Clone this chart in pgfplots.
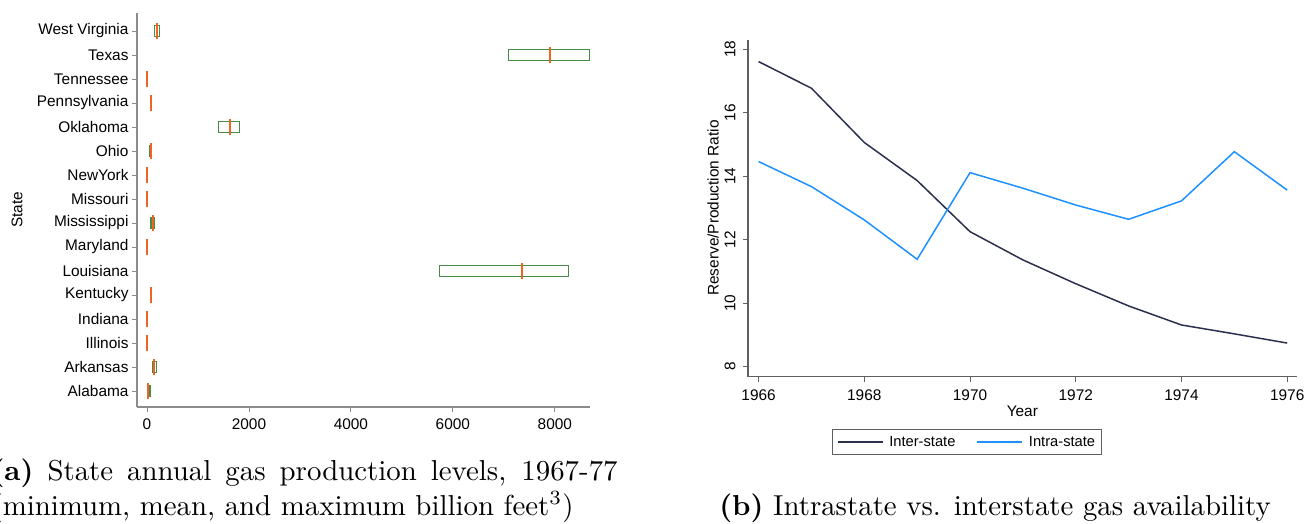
\documentclass[border=0pt]{standalone}
\usepackage{fontspec}
\usepackage{pgfplots}
\pgfplotsset{compat=1.18}
\usepgfplotslibrary{statistics}
\newfontfamily\arial{Liberation Sans}
\definecolor{navyline}{RGB}{43,48,78}
\definecolor{intra}{RGB}{30,144,255}
\definecolor{boxgreen}{RGB}{70,140,70}
\definecolor{meanorange}{RGB}{242,98,35}
\definecolor{leftaxis}{RGB}{140,140,140}
\definecolor{rightaxis}{RGB}{95,95,95}
\begin{document}
\begin{tikzpicture}
% ---------------- left panel ----------------
\begin{axis}[
  at={(137pt,116pt)}, anchor=south west, scale only axis,
  width=453pt, height=394pt,
  xmin=-196, xmax=8690, ymin=0.333, ymax=16.75,
  axis x line*=bottom, axis y line*=left,
  axis line style={-, draw=leftaxis, line width=1.2pt},
  tick align=outside, major tick length=5pt,
  tick style={draw=leftaxis, line width=0.9pt},
  xtick={0,2000,4000,6000,8000},
  ytick={1,...,16},
  yticklabels={Alabama,Arkansas,Illinois,Indiana,Kentucky,Louisiana,Maryland,Mississippi,Missouri,NewYork,Ohio,Oklahoma,Pennsylvania,Tennessee,Texas,West Virginia},
  /pgf/number format/assume math mode=true,
  /pgf/number format/1000 sep={},
  tick label style={font=\arial\fontsize{15.4}{18}\selectfont},
  xticklabel shift=3pt,
  ylabel={State},
  ylabel style={font=\arial\fontsize{15.4}{18}\selectfont, at={(axis description cs:-0.265,0.5)}, anchor=center},
  boxplot/draw direction=x,
  boxplot/box extend=0.46,
  boxplot/every median/.style={draw=meanorange, line width=2pt, shorten <=-2pt, shorten >=-2pt},
  boxplot/every whisker/.style={draw=none},
]
\addplot[draw=boxgreen, line width=1.2pt, boxplot prepared={draw position=1, lower whisker=10, lower quartile=10, median=25, upper quartile=60, upper whisker=60}] coordinates {};
\addplot[draw=boxgreen, line width=1.2pt, boxplot prepared={draw position=2, lower whisker=104, lower quartile=104, median=143, upper quartile=190, upper whisker=190}] coordinates {};
\addplot[draw=boxgreen, line width=1.2pt, boxplot prepared={draw position=3, lower whisker=2, lower quartile=2, median=4, upper quartile=6, upper whisker=6}] coordinates {};
\addplot[draw=boxgreen, line width=1.2pt, boxplot prepared={draw position=4, lower whisker=2, lower quartile=2, median=4, upper quartile=6, upper whisker=6}] coordinates {};
\addplot[draw=boxgreen, line width=1.2pt, boxplot prepared={draw position=5, lower whisker=74, lower quartile=74, median=78, upper quartile=82, upper whisker=82}] coordinates {};
\addplot[draw=boxgreen, line width=1.2pt, boxplot prepared={draw position=6, lower whisker=5745, lower quartile=5745, median=7347, upper quartile=8261, upper whisker=8261}] coordinates {};
\addplot[draw=boxgreen, line width=1.2pt, boxplot prepared={draw position=7, lower whisker=2, lower quartile=2, median=5, upper quartile=8, upper whisker=8}] coordinates {};
\addplot[draw=boxgreen, line width=1.2pt, boxplot prepared={draw position=8, lower whisker=78, lower quartile=78, median=111, upper quartile=151, upper whisker=151}] coordinates {};
\addplot[draw=boxgreen, line width=1.2pt, boxplot prepared={draw position=9, lower whisker=0, lower quartile=0, median=1, upper quartile=2, upper whisker=2}] coordinates {};
\addplot[draw=boxgreen, line width=1.2pt, boxplot prepared={draw position=10, lower whisker=3, lower quartile=3, median=6, upper quartile=9, upper whisker=9}] coordinates {};
\addplot[draw=boxgreen, line width=1.2pt, boxplot prepared={draw position=11, lower whisker=45, lower quartile=45, median=70, upper quartile=92, upper whisker=92}] coordinates {};
\addplot[draw=boxgreen, line width=1.2pt, boxplot prepared={draw position=12, lower whisker=1398, lower quartile=1398, median=1633, upper quartile=1810, upper whisker=1810}] coordinates {};
\addplot[draw=boxgreen, line width=1.2pt, boxplot prepared={draw position=13, lower whisker=74, lower quartile=74, median=78, upper quartile=82, upper whisker=82}] coordinates {};
\addplot[draw=boxgreen, line width=1.2pt, boxplot prepared={draw position=14, lower whisker=2, lower quartile=2, median=8, upper quartile=12, upper whisker=12}] coordinates {};
\addplot[draw=boxgreen, line width=1.2pt, boxplot prepared={draw position=15, lower whisker=7084, lower quartile=7084, median=7902, upper quartile=8686, upper whisker=8686}] coordinates {};
\addplot[draw=boxgreen, line width=1.2pt, boxplot prepared={draw position=16, lower whisker=143, lower quartile=143, median=196, upper quartile=241, upper whisker=241}] coordinates {};
\end{axis}
% ---------------- right panel ----------------
\begin{axis}[
  at={(748pt,146.3pt)}, anchor=south west, scale only axis,
  width=548.7pt, height=336.7pt,
  xmin=1965.8, xmax=1976.18, ymin=7.68, ymax=18.29,
  axis x line*=bottom, axis y line*=left,
  axis line style={-, draw=rightaxis, line width=1.1pt},
  tick align=outside, major tick length=5pt,
  tick style={draw=rightaxis, line width=0.9pt},
  xtick={1966,1968,1970,1972,1974,1976},
  ytick={8,10,12,14,16,18},
  /pgf/number format/assume math mode=true,
  /pgf/number format/1000 sep={},
  tick label style={font=\arial\fontsize{15.4}{18}\selectfont},
  yticklabel style={rotate=90, anchor=south},
  yticklabel shift=4pt,
  xticklabel shift=5pt,
  xlabel={Year},
  xlabel style={font=\arial\fontsize{15.4}{18}\selectfont, at={(axis description cs:0.5,-0.104)}, anchor=center},
  ylabel={Reserve/Production Ratio},
  ylabel style={font=\arial\fontsize{15.4}{18}\selectfont, at={(axis description cs:-0.0638,0.501)}, anchor=center},
  legend columns=2,
  legend image code/.code={\draw[#1] (0pt,0pt) -- (45pt,0pt);},
  legend style={at={(axis description cs:0.399,-0.194)}, anchor=center,
    draw=rightaxis, line width=0.8pt, inner xsep=4pt, inner ysep=5pt,
    font=\arial\fontsize{14.7}{17}\selectfont,
    /tikz/every odd column/.append style={column sep=4pt},
    /tikz/every even column/.append style={column sep=19pt}},
]
\addplot[navyline, line width=1.5pt] coordinates {
  (1966,17.61) (1967,16.77) (1968,15.06) (1969,13.86) (1970,12.25) (1971,11.36)
  (1972,10.61) (1973,9.91) (1974,9.31) (1975,9.03) (1976,8.74)};
\addlegendentry{Inter-state}
\addplot[intra, line width=1.5pt] coordinates {
  (1966,14.46) (1967,13.67) (1968,12.62) (1969,11.38) (1970,14.11) (1971,13.62)
  (1972,13.09) (1973,12.64) (1974,13.22) (1975,14.77) (1976,13.56)};
\addlegendentry{Intra-state}
\end{axis}
% ---------------- captions ----------------
\node[scale=2.885, anchor=base west, inner sep=0pt] at (-9pt,42.6pt)
  {\fontsize{10}{12}\selectfont\makebox[217pt][s]{\textbf{(a)} State annual gas production levels, 1967-77}};
\node[scale=2.885, anchor=base west, inner sep=0pt] at (-9pt,8pt)
  {\fontsize{10}{12}\selectfont (minimum, mean, and maximum billion feet$^3$)};
\node[scale=2.885, anchor=base, inner sep=0pt] at (995pt,8pt)
  {\fontsize{10}{12}\selectfont\textbf{(b)} Intrastate vs. interstate gas availability};
\pgfresetboundingbox
\path[use as bounding box] (0pt,0pt) rectangle (1305pt,523pt);
\end{tikzpicture}
\end{document}
